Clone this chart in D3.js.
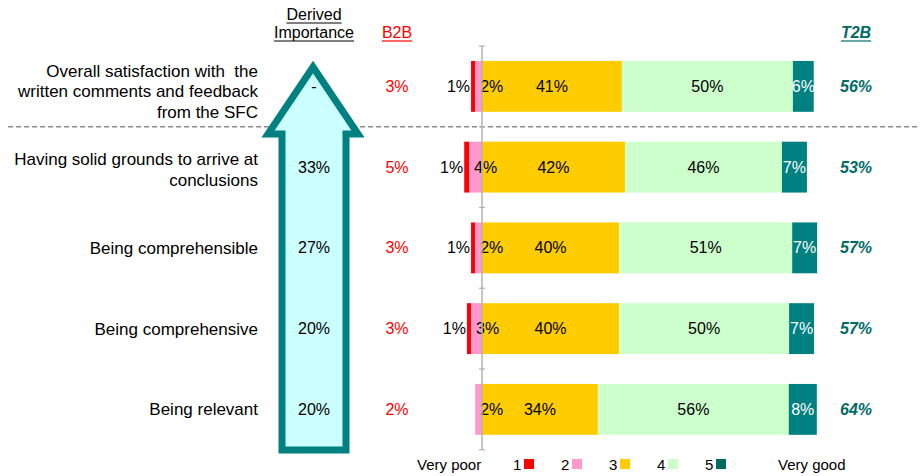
<!DOCTYPE html>
<html>
<head>
<meta charset="utf-8">
<script src="https://cdn.jsdelivr.net/npm/d3@7"></script>
<style>
  body { margin: 0; background: #fff; }
  svg { display: block; font-family: "Liberation Sans", Arial, sans-serif; }
</style>
</head>
<body>
<svg id="chart" width="920" height="476"></svg>
<script>
const categories = [
  "Overall satisfaction with  the\nwritten comments and feedback\nfrom the SFC",
  "Having solid grounds to arrive at\nconclusions",
  "Being comprehensible",
  "Being comprehensive",
  "Being relevant"
];
// share of answers per score (1 = very poor ... 5 = very good)
const score1 = [1.2, 1.4, 1.2, 1.2, 0];
const score2 = [2.0, 3.8, 2.0, 3.2, 2.0];
const score3 = [40.9, 41.8, 40.1, 40.1, 33.9];
const score4 = [50.0, 45.9, 50.6, 49.7, 55.8];
const score5 = [6.1, 7.3, 7.3, 7.3, 8.2];
const importance = ["-", "33%", "27%", "20%", "20%"];
const b2b = ["3%", "5%", "3%", "3%", "2%"];
const t2b = ["56%", "53%", "57%", "57%", "64%"];
const legendKeys = ["1", "2", "3", "4", "5"];

const colors = ["#ff0000", "#ff99cc", "#ffcc00", "#ccffcc", "#008080"];
const teal = "#008080";
const fs = 16;

const svg = d3.select("#chart");

const y = d3.scaleBand()
  .domain(categories)
  .range([46, 449.75])
  .paddingInner(0.37)
  .paddingOuter(0.185);

const x = d3.scaleLinear().domain([0, 100]).range([482, 824]);

// dashed separator below the overall row
const sepY = (y(categories[0]) + y.bandwidth() + y(categories[1])) / 2;
svg.append("line")
  .attr("x1", 8).attr("x2", 920)
  .attr("y1", sepY).attr("y2", sepY)
  .attr("stroke", "#8c8c8c")
  .attr("stroke-width", 1.3)
  .attr("stroke-dasharray", "5,3");

// importance arrow
const arrow = [[313, 67], [358, 134], [346, 134], [346, 450], [282, 450], [282, 134], [268, 134]];
svg.append("path")
  .attr("d", d3.line()(arrow) + "Z")
  .attr("fill", "#ccffff")
  .attr("stroke", teal)
  .attr("stroke-width", 7)
  .attr("stroke-linejoin", "miter");

// headers
function header(txt, xp, yp, color, bold) {
  const t = svg.append("text")
    .attr("x", xp).attr("y", yp)
    .attr("text-anchor", "middle")
    .attr("font-size", fs)
    .attr("fill", color)
    .attr("font-weight", bold ? "bold" : "normal")
    .attr("font-style", bold ? "italic" : "normal")
    .text(txt);
  const w = t.node().getComputedTextLength();
  svg.append("line")
    .attr("x1", xp - w / 2).attr("x2", xp + w / 2)
    .attr("y1", yp + 3).attr("y2", yp + 3)
    .attr("stroke", color).attr("stroke-width", 1.2);
}
header("Derived", 314, 20, "#000", false);
header("Importance", 314, 38, "#000", false);
header("B2B", 397, 38, "#ff0000", false);
header("T2B", 856, 38, "#006b66", true);

// category labels
categories.forEach(c => {
  const lines = c.split("\n");
  const cy = y(c) + y.bandwidth() / 2 + (lines.length - 1) * 2.5;
  const t = svg.append("text")
    .attr("text-anchor", "end")
    .attr("font-size", 17)
    .attr("fill", "#000")
    .style("white-space", "pre");
  lines.forEach((l, i) => {
    t.append("tspan")
      .attr("x", 258)
      .attr("y", cy + (i - (lines.length - 1) / 2) * 20.5)
      .attr("dy", "0.35em")
      .text(l);
  });
});

// side columns
function column(values, xp, color, bold) {
  svg.append("g").selectAll("text")
    .data(values)
    .join("text")
    .attr("x", xp)
    .attr("y", (d, i) => y(categories[i]) + y.bandwidth() / 2)
    .attr("dy", "0.35em")
    .attr("text-anchor", "middle")
    .attr("font-size", fs)
    .attr("fill", color)
    .attr("font-weight", bold ? "bold" : "normal")
    .attr("font-style", bold ? "italic" : "normal")
    .text(d => d);
}
column(importance, 314, "#000", false);
column(b2b, 397, "#ff0000", false);
column(t2b, 856, "#006b66", true);

// stacked diverging bars
const rows = categories.map((c, i) => {
  const v = [score1[i], score2[i], score3[i], score4[i], score5[i]];
  const segs = [];
  segs.push({ k: 0, x0: -(v[0] + v[1]), x1: -v[1], v: v[0] });
  segs.push({ k: 1, x0: -v[1], x1: 0, v: v[1] });
  let acc = 0;
  for (let k = 2; k < 5; k++) {
    segs.push({ k, x0: acc, x1: acc + v[k], v: v[k] });
    acc += v[k];
  }
  return { c, segs };
});

const g = svg.append("g");
rows.forEach(r => {
  const top = y(r.c), cy = top + y.bandwidth() / 2;
  const segs = r.segs.filter(s => s.v > 0);
  g.selectAll(null)
    .data(segs)
    .join("rect")
    .attr("x", s => x(s.x0))
    .attr("width", s => x(s.x1) - x(s.x0))
    .attr("y", top)
    .attr("height", y.bandwidth())
    .attr("fill", s => colors[s.k]);
  g.selectAll(null)
    .data(segs)
    .join("text")
    .attr("x", s => s.k === 0 ? x(s.x0) - 1 : s.k === 1 ? x(s.x0) + 5 : (x(s.x0) + x(s.x1)) / 2)
    .attr("y", cy)
    .attr("dy", "0.35em")
    .attr("text-anchor", s => s.k === 0 ? "end" : s.k === 1 ? "start" : "middle")
    .attr("font-size", fs)
    .attr("fill", s => s.k === 4 ? "#fff" : "#000")
    .text(s => Math.round(s.v) + "%");
});

// vertical zero axis with ticks at band boundaries
const step = y.step();
const ticks = d3.range(categories.length + 1).map(i => 46 + i * step);
svg.append("line")
  .attr("x1", x(0)).attr("x2", x(0))
  .attr("y1", ticks[0]).attr("y2", ticks[ticks.length - 1])
  .attr("stroke", "#b3b3b3").attr("stroke-width", 1.5);
svg.append("g").selectAll("line")
  .data(ticks)
  .join("line")
  .attr("x1", x(0) - 3).attr("x2", x(0) + 3)
  .attr("y1", d => d).attr("y2", d => d)
  .attr("stroke", "#b3b3b3").attr("stroke-width", 1.2);

// legend
const legendY = 465;
svg.append("text").attr("x", 417).attr("y", legendY).attr("dy", "0.35em")
  .attr("font-size", 15).text("Very poor");
svg.append("text").attr("x", 778).attr("y", legendY).attr("dy", "0.35em")
  .attr("font-size", 15).text("Very good");
const legendX = d3.scalePoint().domain(legendKeys).range([513, 705]);
const lg = svg.append("g").selectAll("g")
  .data(legendKeys)
  .join("g")
  .attr("transform", d => `translate(${legendX(d)},${legendY})`);
lg.append("text").attr("dy", "0.35em").attr("font-size", 15).text(d => d);
lg.append("rect")
  .attr("x", 11).attr("y", -6)
  .attr("width", 10).attr("height", 10)
  .attr("fill", (d, i) => i === 4 ? "#006b60" : colors[i]);
</script>
</body>
</html>
